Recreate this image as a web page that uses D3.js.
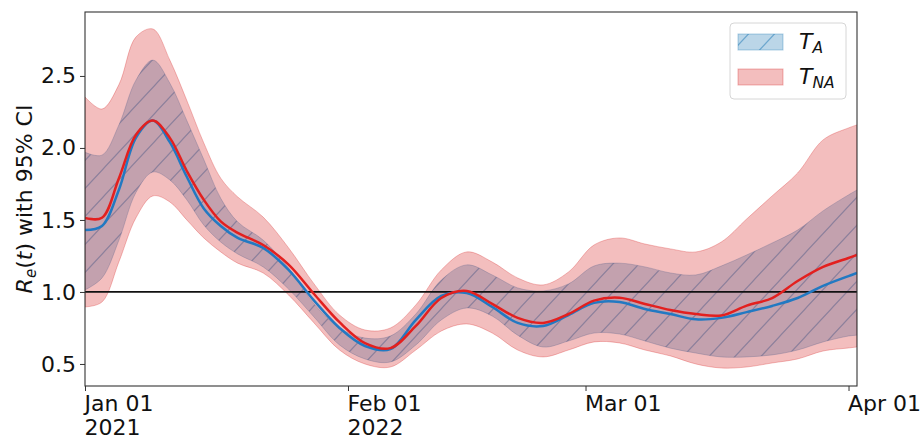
<!DOCTYPE html>
<html>
<head>
<meta charset="utf-8">
<script src="https://cdn.jsdelivr.net/npm/d3@7"></script>
<style>
  html, body { margin: 0; padding: 0; background: #fff; }
  svg { display: block; font-family: "DejaVu Sans", sans-serif; }
</style>
</head>
<body>
<svg id="chart" width="921" height="440"></svg>
<script>
// Reproduction number estimates (posterior mean and 95% CI)
const dates = [
  "2022-01-01","2022-01-03","2022-01-05","2022-01-07","2022-01-09","2022-01-11",
  "2022-01-13","2022-01-15","2022-01-17","2022-01-19","2022-01-22","2022-01-25",
  "2022-01-28","2022-01-31","2022-02-03","2022-02-06","2022-02-09","2022-02-12",
  "2022-02-15","2022-02-18","2022-02-21","2022-02-24","2022-02-27","2022-03-02",
  "2022-03-05","2022-03-08","2022-03-11","2022-03-14","2022-03-17","2022-03-20",
  "2022-03-23","2022-03-26","2022-03-29","2022-04-01","2022-04-02"
];

// T_A: mean and 95% interval
const taMean  = [1.43,1.458,1.71,2.07,2.19,2.04,1.80,1.58,1.458,1.375,1.306,1.153,0.94,0.75,0.625,0.604,0.806,0.972,0.993,0.896,0.785,0.764,0.84,0.924,0.93,0.882,0.847,0.81,0.82,0.86,0.903,0.958,1.042,1.11,1.132];
const taUpper = [1.97,1.95,2.16,2.47,2.61,2.45,2.19,1.92,1.65,1.486,1.36,1.167,0.917,0.75,0.68,0.694,0.847,1.083,1.188,1.118,1.028,1.007,1.056,1.18,1.2,1.174,1.132,1.118,1.18,1.257,1.34,1.43,1.563,1.674,1.708];
const taLower = [1.014,1.097,1.36,1.69,1.833,1.778,1.64,1.465,1.347,1.264,1.174,1.02,0.826,0.632,0.535,0.514,0.632,0.806,0.889,0.833,0.70,0.618,0.66,0.715,0.708,0.66,0.61,0.576,0.549,0.549,0.563,0.597,0.653,0.694,0.70];

// T_NA: mean and 95% interval
const tnaMean  = [1.514,1.515,1.79,2.09,2.19,2.07,1.84,1.64,1.49,1.41,1.326,1.19,0.986,0.79,0.645,0.61,0.764,0.958,1.007,0.917,0.82,0.785,0.847,0.94,0.96,0.917,0.875,0.847,0.837,0.905,0.958,1.076,1.174,1.236,1.257];
const tnaUpper = [2.354,2.27,2.44,2.77,2.826,2.61,2.33,2.035,1.79,1.66,1.52,1.306,1.056,0.84,0.736,0.75,0.91,1.153,1.278,1.208,1.097,1.049,1.139,1.326,1.375,1.333,1.299,1.278,1.347,1.507,1.667,1.826,2.056,2.139,2.16];
const tnaLower = [0.896,0.93,1.21,1.514,1.667,1.625,1.5,1.375,1.278,1.20,1.132,0.979,0.785,0.597,0.50,0.479,0.597,0.729,0.778,0.715,0.597,0.549,0.597,0.653,0.646,0.597,0.556,0.50,0.472,0.479,0.507,0.535,0.59,0.611,0.618];

const xTickDates = ["2022-01-01","2022-02-01","2022-03-01","2022-04-01"];
const xTickLabels = [["Jan 01","2021"],["Feb 01","2022"],["Mar 01"],["Apr 01"]];
const yTicks = [0.5, 1.0, 1.5, 2.0, 2.5];
const yDomain = [0.347, 2.944];

const parse = d3.utcParse("%Y-%m-%d");
const t = dates.map(parse);

const m = { left: 85, right: 857, top: 12, bottom: 386 };
const svg = d3.select("#chart");

const x = d3.scaleUtc().domain([t[0], t[t.length - 1]]).range([m.left, m.right]);
const y = d3.scaleLinear().domain(yDomain).range([m.bottom, m.top]);

const blueFill = "rgba(31,119,180,0.3)";
const redFill = "rgba(214,39,40,0.3)";
const curve = d3.curveCatmullRom.alpha(0.5);

// hatch pattern for the T_A band
const defs = svg.append("defs");
const pat = defs.append("pattern")
  .attr("id", "hatch").attr("patternUnits", "userSpaceOnUse")
  .attr("width", 26).attr("height", 28);
pat.append("path")
  .attr("d", "M0,28 L26,0 M-13,14 L13,-14 M13,42 L39,14")
  .attr("stroke", "rgba(31,119,180,0.5)").attr("stroke-width", 1.2).attr("fill", "none");

defs.append("clipPath").attr("id", "plotclip").append("rect")
  .attr("x", m.left).attr("y", m.top)
  .attr("width", m.right - m.left).attr("height", m.bottom - m.top);

const band = (lo, hi) => d3.area()
  .x((d, i) => x(t[i]))
  .y0((d, i) => y(lo[i]))
  .y1((d, i) => y(hi[i]))
  .curve(curve)(dates);

const line = (vals) => d3.line()
  .x((d, i) => x(t[i]))
  .y((d, i) => y(vals[i]))
  .curve(curve)(dates);

const plot = svg.append("g").attr("clip-path", "url(#plotclip)");

// T_A band with hatching
plot.append("path").attr("d", band(taLower, taUpper))
  .attr("fill", blueFill).attr("stroke", blueFill).attr("stroke-width", 1);
plot.append("path").attr("d", band(taLower, taUpper))
  .attr("fill", "url(#hatch)");

// T_NA band
plot.append("path").attr("d", band(tnaLower, tnaUpper))
  .attr("fill", redFill).attr("stroke", redFill).attr("stroke-width", 1);

// reference line at R = 1
plot.append("line")
  .attr("x1", m.left).attr("x2", m.right)
  .attr("y1", y(1)).attr("y2", y(1))
  .attr("stroke", "#111").attr("stroke-width", 1.8);

// mean lines
plot.append("path").attr("d", line(taMean))
  .attr("fill", "none").attr("stroke", "#2279c2").attr("stroke-width", 2.5);
plot.append("path").attr("d", line(tnaMean))
  .attr("fill", "none").attr("stroke", "#e3201f").attr("stroke-width", 2.5);

// axes
const yAxis = svg.append("g").attr("transform", `translate(${m.left},0)`)
  .call(d3.axisLeft(y).tickValues(yTicks).tickFormat(d3.format(".1f")).tickSize(5).tickPadding(4));
const xAxis = svg.append("g").attr("transform", `translate(0,${m.bottom})`)
  .call(d3.axisBottom(x).tickValues(xTickDates.map(parse)).tickFormat("").tickSize(5));

[yAxis, xAxis].forEach(g => {
  g.select(".domain").remove();
  g.selectAll(".tick line").attr("stroke", "#333").attr("stroke-width", 1);
});
yAxis.selectAll(".tick text")
  .attr("font-size", 22).attr("fill", "#111").attr("font-family", "DejaVu Sans");

xAxis.selectAll(".tick").each(function(d, i) {
  const tx = d3.select(this).select("text")
    .attr("text-anchor", "start").attr("x", -1).attr("y", 0).attr("dy", null)
    .attr("font-size", 22).attr("fill", "#111").attr("font-family", "DejaVu Sans");
  tx.text(null);
  xTickLabels[i].forEach((s, k) => {
    tx.append("tspan").attr("x", -1).attr("y", 25 + k * 24).text(s);
  });
});

// frame
svg.append("rect")
  .attr("x", m.left).attr("y", m.top)
  .attr("width", m.right - m.left).attr("height", m.bottom - m.top)
  .attr("fill", "none").attr("stroke", "#333").attr("stroke-width", 1.1);

// y-axis title
const yl = svg.append("text")
  .attr("transform", `translate(32,${(m.top + m.bottom) / 2}) rotate(-90)`)
  .attr("text-anchor", "middle").attr("font-size", 22).attr("fill", "#111");
yl.append("tspan").attr("font-style", "italic").text("R");
yl.append("tspan").attr("font-style", "italic").attr("font-size", 15).attr("dy", 4).text("e");
yl.append("tspan").attr("dy", -4).text("(");
yl.append("tspan").attr("font-style", "italic").text("t");
yl.append("tspan").text(") with 95% CI");

// legend
const lg = svg.append("g");
lg.append("rect").attr("x", 730).attr("y", 23).attr("width", 116).attr("height", 76)
  .attr("rx", 4).attr("fill", "rgba(255,255,255,0.8)").attr("stroke", "#d6d6d6").attr("stroke-width", 1);
const legendItems = [
  { y: 34, fill: blueFill, stroke: "rgba(31,119,180,0.35)", hatch: true, main: "T", sub: "A" },
  { y: 69, fill: redFill, stroke: "rgba(214,39,40,0.35)", hatch: false, main: "T", sub: "NA" }
];
legendItems.forEach(it => {
  lg.append("rect").attr("x", 738).attr("y", it.y).attr("width", 45).attr("height", 16)
    .attr("fill", it.fill).attr("stroke", it.stroke).attr("stroke-width", 1);
  if (it.hatch) {
    lg.append("rect").attr("x", 738).attr("y", it.y).attr("width", 45).attr("height", 16)
      .attr("fill", "url(#hatch)");
  }
  const tx = lg.append("text").attr("x", 799).attr("y", it.y + 15)
    .attr("font-size", 22).attr("font-style", "italic").attr("fill", "#111");
  tx.append("tspan").text(it.main);
  tx.append("tspan").attr("font-size", 15.5).attr("dy", 4).text(it.sub);
});
</script>
</body>
</html>
